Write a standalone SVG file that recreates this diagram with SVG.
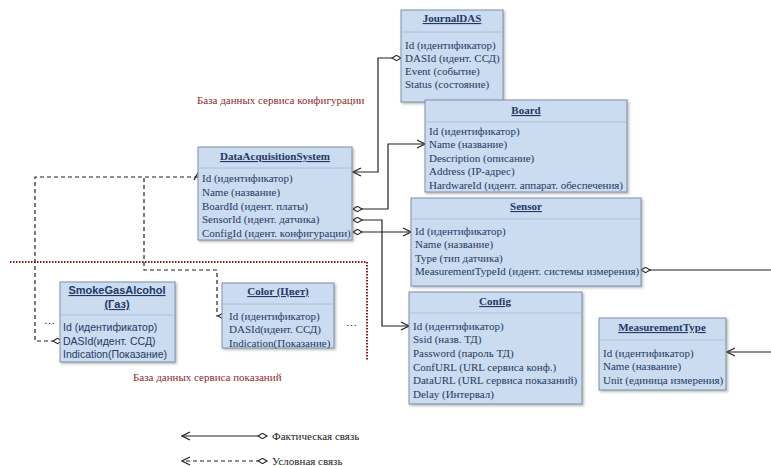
<svg xmlns="http://www.w3.org/2000/svg" width="771" height="466" viewBox="0 0 771 466">
<defs>
<style>
.box{fill:#cbdbf0;stroke:#7d90ad;stroke-width:1;filter:url(#sh)}
.sep{stroke:#aec1dc;stroke-width:1}
.t{font-family:"Liberation Serif",serif;font-size:11px;fill:#233a60}
.tt{font-family:"Liberation Serif",serif;font-size:11px;font-weight:bold;fill:#1f3864;text-decoration:underline;text-anchor:middle}
.s{font-family:"Liberation Sans",sans-serif;font-size:10.5px;fill:#233a60}
.st{font-family:"Liberation Sans",sans-serif;font-size:11px;font-weight:bold;fill:#1f3864;text-decoration:underline;text-anchor:middle}
.lbl{font-family:"Liberation Serif",serif;font-size:11px;fill:#8b2a2a}
.leg{font-family:"Liberation Serif",serif;font-size:11px;fill:#222}
.c{fill:none;stroke:#222;stroke-width:1.2;marker-start:url(#dia);marker-end:url(#arr)}
.d{fill:none;stroke:#222;stroke-width:1.2;stroke-dasharray:4,3}
</style>
<filter id="sh" x="-5%" y="-5%" width="115%" height="115%">
<feDropShadow dx="1.5" dy="1.5" stdDeviation="1" flood-color="#666" flood-opacity="0.45"/>
</filter>
<marker id="dia" markerWidth="11" markerHeight="7" refX="0.5" refY="3.5" orient="auto" markerUnits="userSpaceOnUse">
<path d="M0.5,3.5 L5,0.8 L9.5,3.5 L5,6.2 Z" fill="#fff" stroke="#222" stroke-width="1.1"/>
</marker>
<marker id="arr" markerWidth="10" markerHeight="10" refX="9" refY="5" orient="auto" markerUnits="userSpaceOnUse">
<path d="M1,1 L9,5 L1,9" fill="none" stroke="#222" stroke-width="1.2"/>
</marker>
</defs>
<rect width="771" height="466" fill="#fff"/>

<g id="regions">
<path d="M10,262 H367 V360" fill="none" stroke="#8b1a1a" stroke-width="2" stroke-dasharray="1.5,1.5"/>
<text class="lbl" x="197" y="104">База данных сервиса конфигурации</text>
<text class="lbl" x="133" y="381">База данных сервиса показаний</text>
</g>

<g id="connectors">
<path class="c" d="M401,58 H378 V172 H353"/>
<path class="c" d="M353,209 H388 V144 H425"/>
<path class="c" d="M353,220 H382 V326 H409"/>
<path class="c" d="M353,232 H411"/>
<path d="M641,270 H771" fill="none" stroke="#222" stroke-width="1.2" marker-start="url(#dia)"/>
<path d="M771,352 H727" fill="none" stroke="#222" stroke-width="1.2" marker-end="url(#arr)"/>
<path class="d" d="M62,341 H35 V177 H198" marker-start="url(#dia)"/>
<path class="d" d="M227,316 H217 V270 H144 V177" marker-start="url(#dia)"/>
<path d="M194,180 L198,173 L202,180" fill="none" stroke="#222" stroke-width="1.2"/>
<text class="leg" x="44" y="324">…</text>
<text class="leg" x="346" y="326">…</text>
</g>

<g id="JournalDAS">
<rect class="box" x="401" y="10" width="102" height="92"/>
<line class="sep" x1="402" y1="32" x2="502" y2="32"/>
<text class="tt" x="452" y="22">JournalDAS</text>
<text class="t" x="405" y="49">Id (идентификатор)</text>
<text class="t" x="405" y="62">DASId (идент. ССД)</text>
<text class="t" x="405" y="75">Event (событие)</text>
<text class="t" x="405" y="88">Status (состояние)</text>
</g>

<g id="Board">
<rect class="box" x="425" y="100" width="202" height="92"/>
<line class="sep" x1="426" y1="122" x2="626" y2="122"/>
<text class="tt" x="526" y="114">Board</text>
<text class="t" x="429" y="135">Id (идентификатор)</text>
<text class="t" x="429" y="148">Name (название)</text>
<text class="t" x="429" y="162">Description (описание)</text>
<text class="t" x="429" y="175">Address (IP-адрес)</text>
<text class="t" x="429" y="189">HardwareId (идент. аппарат. обеспечения)</text>
</g>

<g id="DataAcquisitionSystem">
<rect class="box" x="198" y="147" width="154" height="93"/>
<line class="sep" x1="199" y1="168" x2="351" y2="168"/>
<text class="tt" x="275" y="160">DataAcquisitionSystem</text>
<text class="t" x="202" y="182">Id (идентификатор)</text>
<text class="t" x="202" y="196">Name (название)</text>
<text class="t" x="202" y="210">BoardId (идент. платы)</text>
<text class="t" x="202" y="223">SensorId (идент. датчика)</text>
<text class="t" x="202" y="237">ConfigId (идент. конфигурации)</text>
</g>

<g id="Sensor">
<rect class="box" x="411" y="198" width="230" height="88"/>
<line class="sep" x1="412" y1="219" x2="640" y2="219"/>
<text class="tt" x="526" y="210">Sensor</text>
<text class="t" x="415" y="235">Id (идентификатор)</text>
<text class="t" x="415" y="248">Name (название)</text>
<text class="t" x="415" y="262">Type (тип датчика)</text>
<text class="t" x="415" y="275">MeasurementTypeId (идент. системы измерения)</text>
</g>

<g id="Config">
<rect class="box" x="409" y="292" width="173" height="112"/>
<line class="sep" x1="410" y1="313" x2="581" y2="313"/>
<text class="tt" x="495" y="305">Config</text>
<text class="t" x="413" y="330">Id (идентификатор)</text>
<text class="t" x="413" y="343">Ssid (назв. ТД)</text>
<text class="t" x="413" y="357">Password (пароль ТД)</text>
<text class="t" x="413" y="371">ConfURL (URL сервиса конф.)</text>
<text class="t" x="413" y="384">DataURL (URL сервиса показаний)</text>
<text class="t" x="413" y="398">Delay (Интервал)</text>
</g>

<g id="MeasurementType">
<rect class="box" x="599" y="318" width="127" height="72"/>
<line class="sep" x1="600" y1="340" x2="725" y2="340"/>
<text class="tt" x="662" y="331">MeasurementType</text>
<text class="t" x="603" y="357">Id (идентификатор)</text>
<text class="t" x="603" y="370">Name (название)</text>
<text class="t" x="603" y="384">Unit (единица измерения)</text>
</g>

<g id="SmokeGasAlcohol">
<rect class="box" x="60" y="282" width="115" height="80"/>
<line class="sep" x1="61" y1="315" x2="174" y2="315"/>
<text class="st" x="117" y="294">SmokeGasAlcohol</text>
<text class="st" x="117" y="308">(Газ)</text>
<text class="s" x="63" y="331">Id (идентификатор)</text>
<text class="s" x="63" y="345">DASId(идент. ССД)</text>
<text class="s" x="63" y="358">Indication(Показание)</text>
</g>

<g id="Color">
<rect class="box" x="222" y="283" width="112" height="65"/>
<line class="sep" x1="223" y1="304" x2="333" y2="304"/>
<text class="tt" x="278" y="295">Color (Цвет)</text>
<text class="t" x="229" y="320">Id (идентификатор)</text>
<text class="t" x="229" y="333">DASId(идент. ССД)</text>
<text class="t" x="229" y="347">Indication(Показание)</text>
</g>

<g id="legend">
<path class="c" d="M267,436 H182"/>
<text class="leg" x="272" y="440">Фактическая связь</text>
<path class="d" d="M267,461 H182" marker-start="url(#dia)" marker-end="url(#arr)"/>
<text class="leg" x="272" y="465">Условная связь</text>
</g>
</svg>
